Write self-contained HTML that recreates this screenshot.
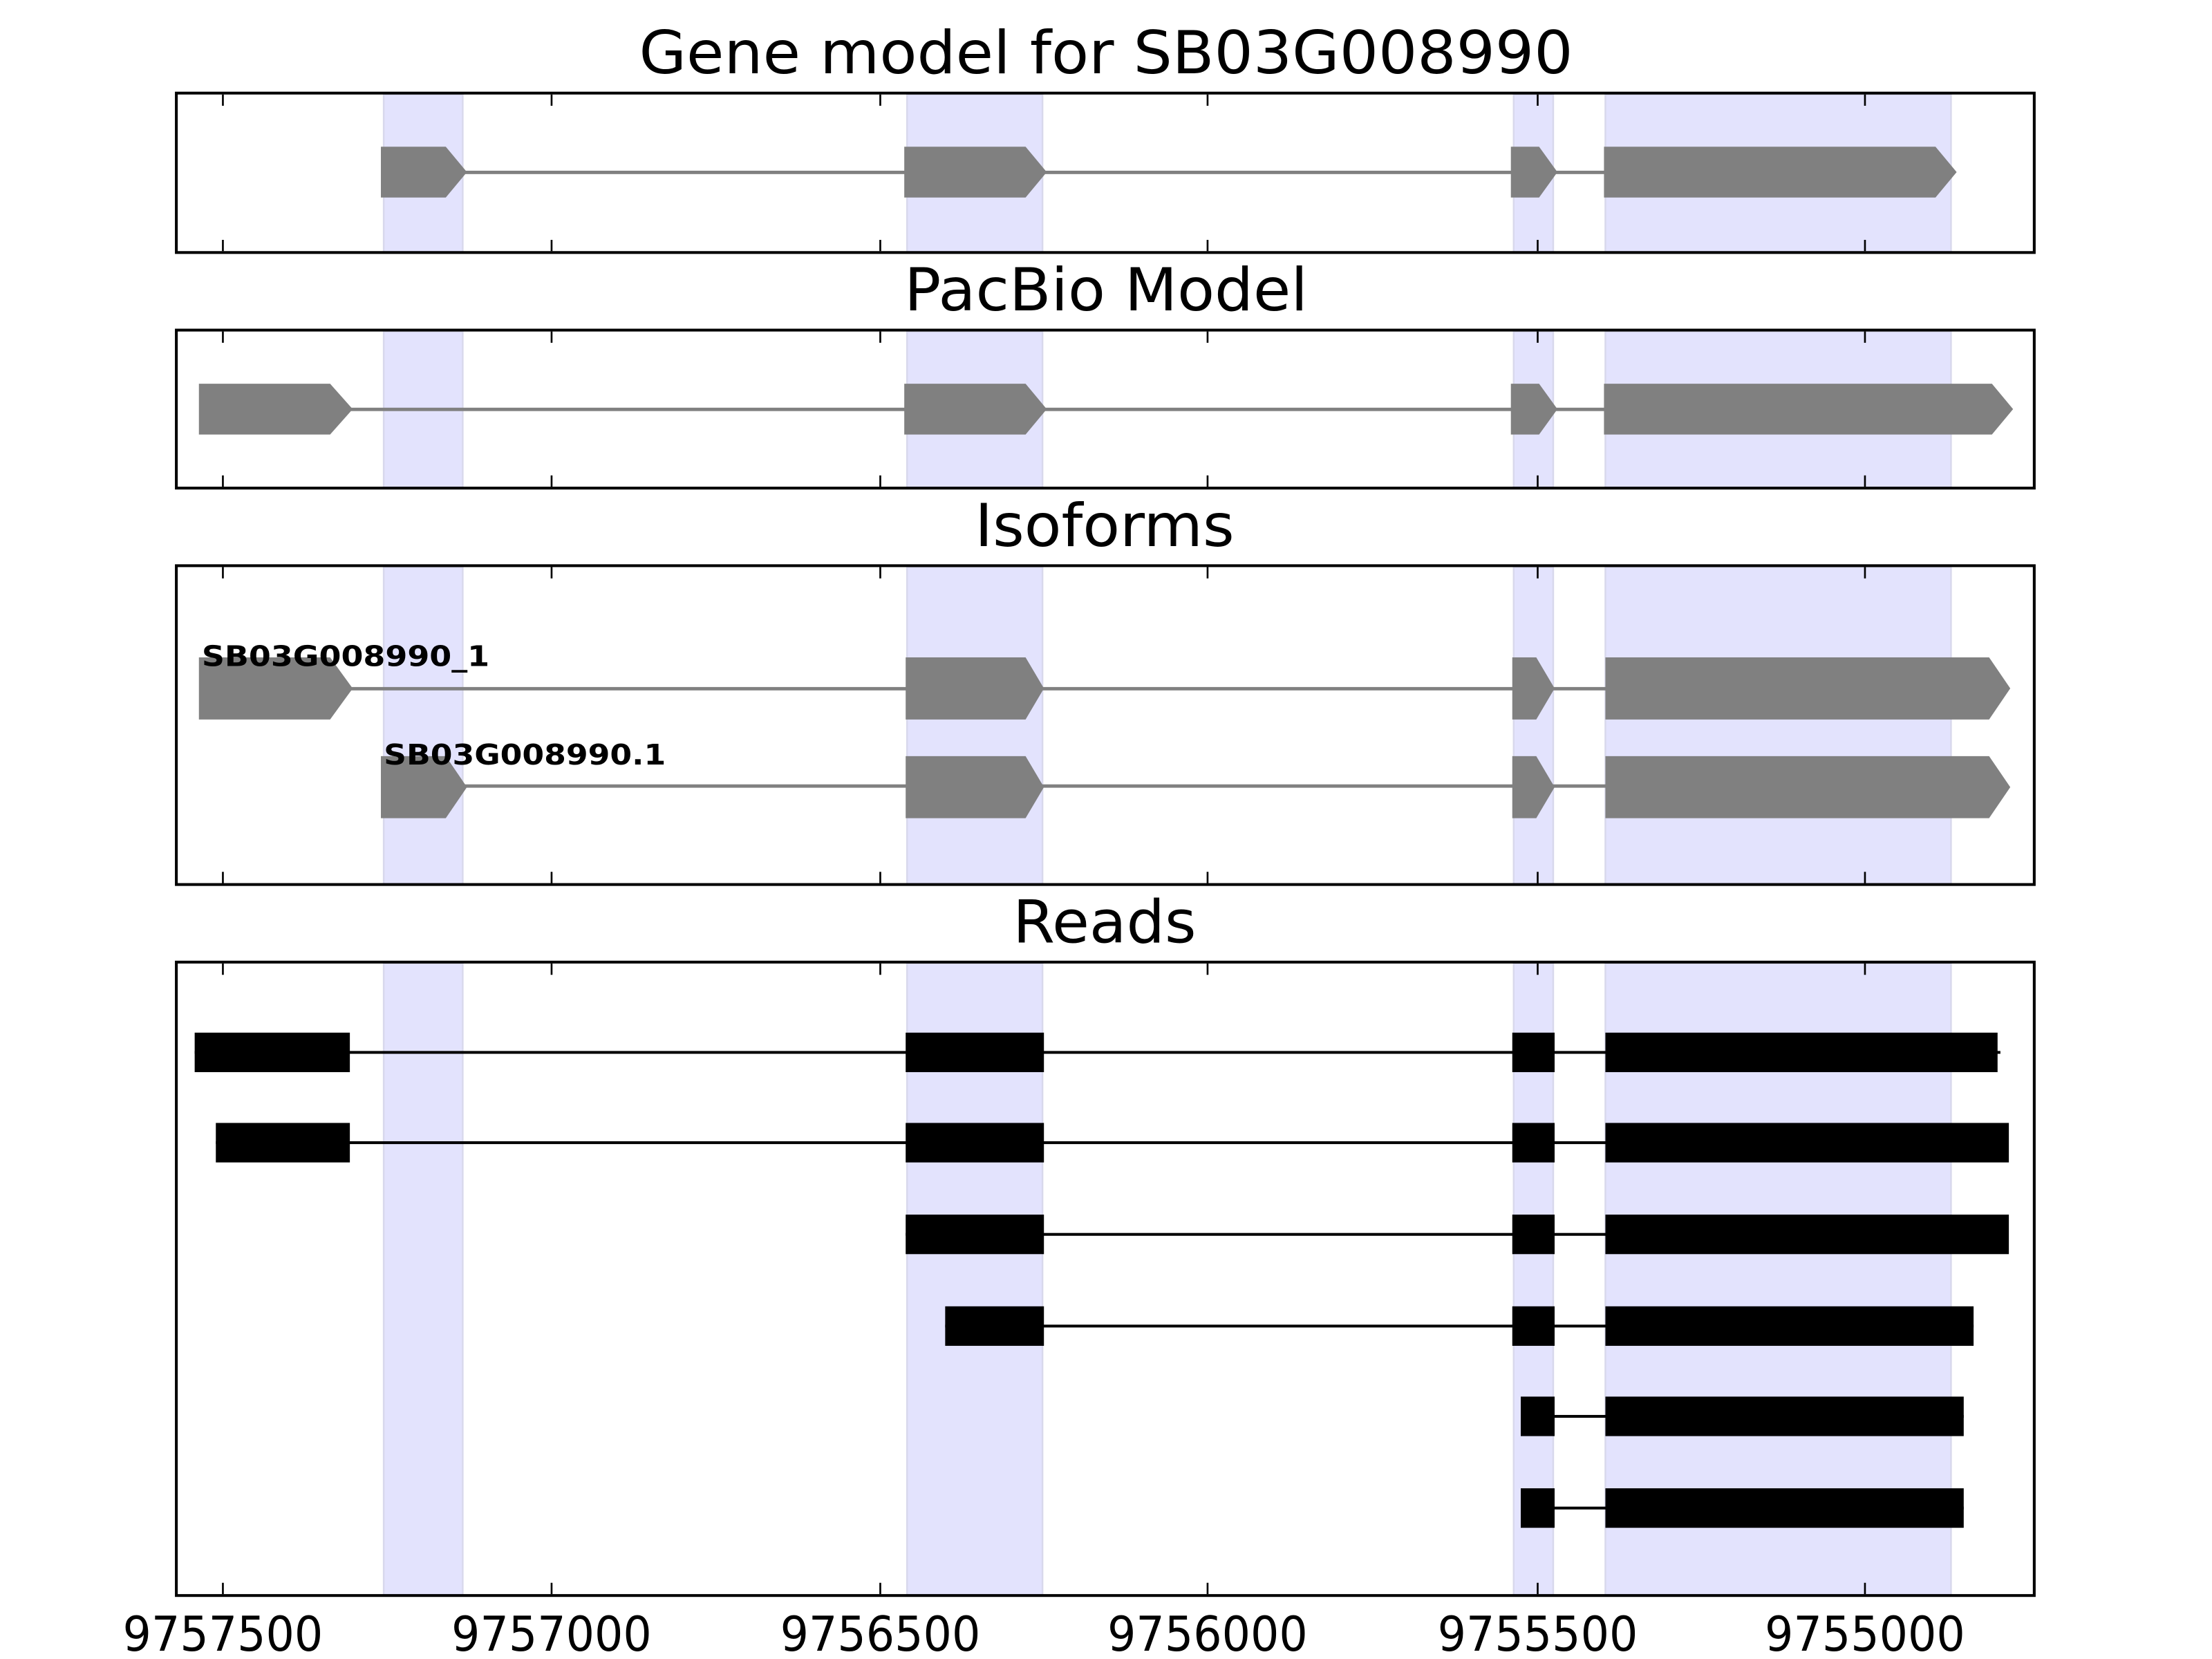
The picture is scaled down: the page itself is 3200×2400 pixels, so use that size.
<!DOCTYPE html>
<html><head><meta charset="utf-8"><style>html,body{margin:0;padding:0;background:#fff}svg{display:block}</style></head>
<body>
<svg xmlns="http://www.w3.org/2000/svg" width="3200" height="2400" viewBox="0 0 1568 1176" preserveAspectRatio="none" font-family="DejaVu Sans, Liberation Sans, sans-serif">
<g fill="#e3e3fd" stroke="#d8d8ec" stroke-width="1.2">
<rect x="272" y="67" width="56" height="112"/><rect x="643" y="67" width="96" height="112"/><rect x="1073" y="67" width="28" height="112"/><rect x="1138" y="67" width="245" height="112"/>
<rect x="272" y="235" width="56" height="111"/><rect x="643" y="235" width="96" height="111"/><rect x="1073" y="235" width="28" height="111"/><rect x="1138" y="235" width="245" height="111"/>
<rect x="272" y="402" width="56" height="225"/><rect x="643" y="402" width="96" height="225"/><rect x="1073" y="402" width="28" height="225"/><rect x="1138" y="402" width="245" height="225"/>
<rect x="272" y="683" width="56" height="448"/><rect x="643" y="683" width="96" height="448"/><rect x="1073" y="683" width="28" height="448"/><rect x="1138" y="683" width="245" height="448"/>
</g>
<g fill="#808080" stroke="none">
<rect x="316" y="121" width="825" height="2.4"/>
<polygon points="270,104 316,104 331,122 316,140 270,140"/>
<polygon points="641,104 727,104 742,122 727,140 641,140"/>
<polygon points="1071,104 1091,104 1104,122 1091,140 1071,140"/>
<polygon points="1137,104 1372,104 1387,122 1372,140 1137,140"/>
<rect x="234" y="289" width="907" height="2.4"/>
<polygon points="141,272 234,272 250,290 234,308 141,308"/>
<polygon points="641,272 727,272 742,290 727,308 641,308"/>
<polygon points="1071,272 1091,272 1104,290 1091,308 1071,308"/>
<polygon points="1137,272 1412,272 1427,290 1412,308 1137,308"/>
<rect x="234" y="487" width="907" height="2.4"/>
<polygon points="141,466 234,466 250,488 234,510 141,510"/>
<polygon points="642,466 727,466 740,488 727,510 642,510"/>
<polygon points="1072,466 1089,466 1102,488 1089,510 1072,510"/>
<polygon points="1138,466 1410,466 1425,488 1410,510 1138,510"/>
<rect x="316" y="556" width="825" height="2.4"/>
<polygon points="270,536 316,536 331,558 316,580 270,580"/>
<polygon points="642,536 727,536 740,558 727,580 642,580"/>
<polygon points="1072,536 1089,536 1102,558 1089,580 1072,580"/>
<polygon points="1138,536 1410,536 1425,558 1410,580 1138,580"/>
</g>
<g font-weight="bold" font-size="20" fill="#000" font-family="DejaVu Sans Condensed, DejaVu Sans, sans-serif">
<text x="143" y="472" textLength="204" lengthAdjust="spacingAndGlyphs">SB03G008990_1</text>
<text x="272" y="542" textLength="200" lengthAdjust="spacingAndGlyphs">SB03G008990.1</text>
</g>
<g fill="#000">
<rect x="138" y="745" width="1280" height="2"/>
<rect x="138" y="732" width="110" height="28"/><rect x="642" y="732" width="98" height="28"/><rect x="1072" y="732" width="30" height="28"/><rect x="1138" y="732" width="278" height="28"/>
<rect x="153" y="809" width="1270" height="2"/>
<rect x="153" y="796" width="95" height="28"/><rect x="642" y="796" width="98" height="28"/><rect x="1072" y="796" width="30" height="28"/><rect x="1138" y="796" width="286" height="28"/>
<rect x="642" y="874" width="780" height="2"/>
<rect x="642" y="861" width="98" height="28"/><rect x="1072" y="861" width="30" height="28"/><rect x="1138" y="861" width="286" height="28"/>
<rect x="670" y="939" width="729" height="2"/>
<rect x="670" y="926" width="70" height="28"/><rect x="1072" y="926" width="30" height="28"/><rect x="1138" y="926" width="261" height="28"/>
<rect x="1078" y="1003" width="314" height="2"/>
<rect x="1078" y="990" width="24" height="28"/><rect x="1138" y="990" width="254" height="28"/>
<rect x="1078" y="1068" width="314" height="2"/>
<rect x="1078" y="1055" width="24" height="28"/><rect x="1138" y="1055" width="254" height="28"/>
</g>
<g fill="none" stroke="#000" stroke-width="2">
<rect x="125" y="66" width="1317" height="113"/>
<rect x="125" y="234" width="1317" height="112"/>
<rect x="125" y="401" width="1317" height="226"/>
<rect x="125" y="682" width="1317" height="449"/>
</g>
<g stroke="#000" stroke-width="1.3">
<path d="M158 67v8M391 67v8M624 67v8M856 67v8M1090 67v8M1322 67v8M158 178v-8M391 178v-8M624 178v-8M856 178v-8M1090 178v-8M1322 178v-8"/>
<path d="M158 235v8M391 235v8M624 235v8M856 235v8M1090 235v8M1322 235v8M158 345v-8M391 345v-8M624 345v-8M856 345v-8M1090 345v-8M1322 345v-8"/>
<path d="M158 402v8M391 402v8M624 402v8M856 402v8M1090 402v8M1322 402v8M158 626v-8M391 626v-8M624 626v-8M856 626v-8M1090 626v-8M1322 626v-8"/>
<path d="M158 683v8M391 683v8M624 683v8M856 683v8M1090 683v8M1322 683v8M158 1130v-8M391 1130v-8M624 1130v-8M856 1130v-8M1090 1130v-8M1322 1130v-8"/>
</g>
<g font-size="42" fill="#000" text-anchor="middle">
<text x="784" y="52" textLength="662" lengthAdjust="spacingAndGlyphs">Gene model for SB03G008990</text>
<text x="784" y="220" textLength="286" lengthAdjust="spacingAndGlyphs">PacBio Model</text>
<text x="783" y="387" textLength="184" lengthAdjust="spacingAndGlyphs">Isoforms</text>
<text x="783" y="668" textLength="130" lengthAdjust="spacingAndGlyphs">Reads</text>
</g>
<g font-size="34" fill="#000" text-anchor="middle">
<text x="158" y="1170" textLength="142" lengthAdjust="spacingAndGlyphs">9757500</text>
<text x="391" y="1170" textLength="142" lengthAdjust="spacingAndGlyphs">9757000</text>
<text x="624" y="1170" textLength="142" lengthAdjust="spacingAndGlyphs">9756500</text>
<text x="856" y="1170" textLength="142" lengthAdjust="spacingAndGlyphs">9756000</text>
<text x="1090" y="1170" textLength="142" lengthAdjust="spacingAndGlyphs">9755500</text>
<text x="1322" y="1170" textLength="142" lengthAdjust="spacingAndGlyphs">9755000</text>
</g>
</svg>
</body></html>
